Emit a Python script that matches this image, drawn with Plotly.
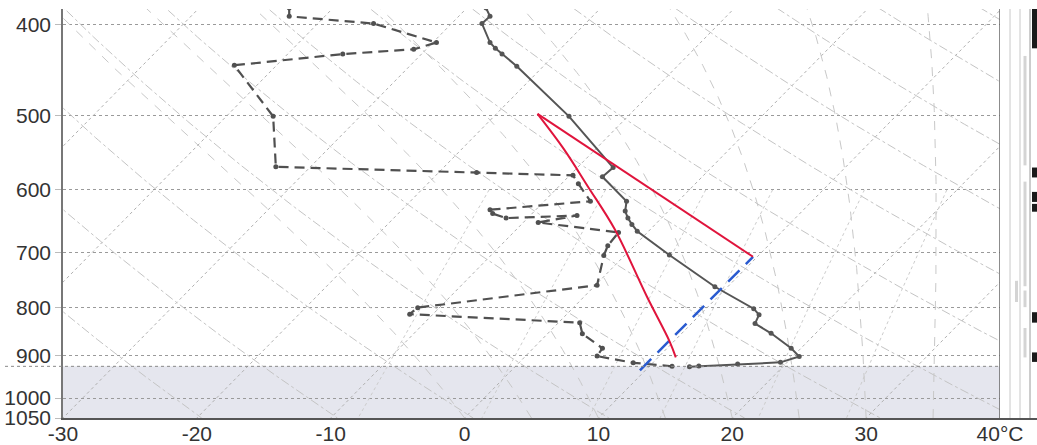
import numpy as np
import plotly.graph_objects as go

# ---------------- data (x values read on the diagram's temperature scale) ----------------
temp_p = [384, 392, 399, 418, 424, 430, 443, 501, 568, 581, 617, 632, 643, 653, 664,
          704, 761, 803, 815, 833, 853, 885, 903, 916, 920, 924, 926]
temp_x = [1.6, 1.9, 1.3, 1.9, 2.3, 2.8, 3.9, 7.8, 11.1, 10.3, 12.1, 12.0, 12.2, 12.5, 12.9,
          15.3, 18.7, 21.6, 22.0, 21.7, 22.9, 24.4, 25.0, 23.6, 20.4, 17.5, 16.8]

dew_p = [384, 392, 399, 418, 425, 430, 442, 501, 567, 575, 579, 591, 617, 630, 636,
         643, 639, 650, 666, 688, 705, 758, 801, 814, 831, 854, 885, 902, 917, 925]
dew_x = [-13.1, -13.1, -6.8, -2.1, -3.8, -9.1, -17.2, -14.3, -14.1, 0.9, 8.1, 8.5, 9.4, 1.9, 2.1,
         3.1, 8.4, 5.5, 11.5, 10.7, 10.4, 9.9, -3.5, -4.1, 8.6, 8.8, 10.3, 9.9, 12.6, 15.5]

red_a_p = [498, 707]
red_a_x = [5.45, 21.55]
red_b_p = [498, 543, 595, 661, 779, 871, 905]
red_b_x = [5.45, 7.42, 9.21, 11.22, 13.61, 15.33, 15.78]

blue_p = [934, 707]
blue_x = [13.1, 21.55]

surface_p = 925

pressure_ticks = [400, 500, 600, 700, 800, 900, 1000, 1050]
temp_ticks = [-30, -20, -10, 0, 10, 20, 30, 40]
temp_tick_text = ["-30", "-20", "-10", "0", "10", "20", "30", "40°C"]

# wind strip blocks (pressure ranges)
wind_top = [380, 568, 603, 621, 810, 894]
wind_bot = [424, 582, 618, 633, 831, 915]
speed_top = [432, 588, 768, 842]
speed_bot = [565, 760, 800, 905]
side_top = [750]
side_bot = [790]

P_BOT, P_TOP = 1050.0, 385.0
SKEW = 30.0


def skew_x(T, p):
    return T + SKEW * np.log(P_BOT / np.asarray(p, dtype=float))


fig = go.Figure()
FONT = "Liberation Sans, Arial, sans-serif"

# ---------------- background skew-T lines ----------------
pp = np.linspace(P_TOP - 10, P_BOT, 200)
for T in range(-80, 50, 10):
    fig.add_trace(go.Scatter(x=skew_x(T, pp), y=pp, mode="lines",
                             line=dict(color="#b0b0b0", width=1, dash="dot"),
                             hoverinfo="skip", showlegend=False))
for th in range(250, 460, 10):
    T = th * (pp / 1000.0) ** 0.2857 - 273.15
    fig.add_trace(go.Scatter(x=skew_x(T, pp), y=pp, mode="lines",
                             line=dict(color="#c4c4c4", width=1, dash="dashdot"),
                             hoverinfo="skip", showlegend=False))


def moist(T0):
    Rd, Cp, L, eps = 287.04, 1005.7, 2.501e6, 0.622
    ps = np.arange(P_BOT, P_TOP - 12, -2.0)
    Ts = [T0 + 273.15]
    for i in range(1, len(ps)):
        T = Ts[-1]
        Tc = T - 273.15
        es = 6.112 * np.exp(17.67 * Tc / (Tc + 243.5))
        rs = eps * es / (ps[i - 1] - es)
        dTdp = (Rd * T + L * rs) / (ps[i - 1] * (Cp + L * L * rs * eps / (Rd * T * T)))
        Ts.append(T + dTdp * (ps[i] - ps[i - 1]))
    return ps, np.array(Ts) - 273.15


for T0 in range(0, 45, 5):
    ps, Ts = moist(T0)
    fig.add_trace(go.Scatter(x=skew_x(Ts, ps), y=ps, mode="lines",
                             line=dict(color="#c8c8c8", width=1, dash="dash"),
                             hoverinfo="skip", showlegend=False))

pm = np.linspace(600, P_BOT, 60)
for w in [2, 4, 7, 10, 16, 24]:
    e = (w / 1000.0) * pm / (0.622 + w / 1000.0)
    a = np.log(e / 6.112)
    Td = 243.5 * a / (17.67 - a)
    fig.add_trace(go.Scatter(x=skew_x(Td, pm), y=pm, mode="lines",
                             line=dict(color="#cccccc", width=1, dash="dot"),
                             hoverinfo="skip", showlegend=False))

# ---------------- profiles ----------------
fig.add_trace(go.Scatter(x=dew_x, y=dew_p, mode="lines+markers",
                         line=dict(color="#505050", width=2.2, dash="10px,6px"),
                         marker=dict(size=5, color="#505050"), showlegend=False))
fig.add_trace(go.Scatter(x=temp_x, y=temp_p, mode="lines+markers",
                         line=dict(color="#555555", width=2),
                         marker=dict(size=5, color="#555555"), showlegend=False))
fig.add_trace(go.Scatter(x=blue_x, y=blue_p, mode="lines",
                         line=dict(color="#2a5bd0", width=2.5, dash="16px,9px"),
                         showlegend=False))
fig.add_trace(go.Scatter(x=red_a_x, y=red_a_p, mode="lines",
                         line=dict(color="#e0143c", width=2), showlegend=False))
fig.add_trace(go.Scatter(x=red_b_x, y=red_b_p, mode="lines",
                         line=dict(color="#e0143c", width=2, shape="spline"), showlegend=False))

# ---------------- shapes ----------------
shapes = [
    dict(type="rect", xref="x", yref="y", x0=-30, x1=40, y0=surface_p, y1=P_BOT,
         fillcolor="#e5e6ee", line=dict(width=0), layer="below"),
    dict(type="line", xref="x domain", yref="y", x0=-58 / 937, x1=1, y0=surface_p, y1=surface_p,
         line=dict(color="#8a8a8a", width=1, dash="dot")),
    dict(type="line", xref="x", yref="y domain", x0=40, x1=40, y0=0, y1=1,
         line=dict(color="#666666", width=1.5)),
]
for xs, col in [(10, "#c8c8c8"), (20, "#c8c8c8"), (30, "#9a9a9a")]:
    shapes.append(dict(type="line", xref="x2", yref="y2 domain", x0=xs, x1=xs, y0=0, y1=1,
                       line=dict(color=col, width=1)))
for a, b in zip(wind_top, wind_bot):
    shapes.append(dict(type="rect", xref="x2", yref="y2", x0=32, x1=37, y0=a, y1=b,
                       fillcolor="#1a1a1a", line=dict(width=0)))
for a, b in zip(speed_top, speed_bot):
    shapes.append(dict(type="rect", xref="x2", yref="y2", x0=23.5, x1=26.5, y0=a, y1=b,
                       fillcolor="#d4d4d4", line=dict(width=0)))
for a, b in zip(side_top, side_bot):
    shapes.append(dict(type="rect", xref="x2", yref="y2", x0=15, x1=18, y0=a, y1=b,
                       fillcolor="#d4d4d4", line=dict(width=0)))

tickfont = dict(family=FONT, size=21, color="#333333")
split = 937 / 974
fig.update_layout(
    width=1037, height=445,
    margin=dict(l=63, r=0, t=9, b=27),
    paper_bgcolor="white", plot_bgcolor="white",
    showlegend=False,
    shapes=shapes,
    xaxis=dict(domain=[0, split], range=[-30, 40], tickvals=temp_ticks, ticktext=temp_tick_text,
               showgrid=False, zeroline=False, showline=True, linecolor="#555555", linewidth=1.5,
               ticks="", ticklabelstandoff=-4, tickfont=tickfont, automargin=False),
    yaxis=dict(type="log", range=[np.log10(P_BOT), np.log10(P_TOP)], tickvals=pressure_ticks,
               ticktext=[str(v) for v in pressure_ticks],
               showgrid=True, gridcolor="#9a9a9a", griddash="dot", gridwidth=1,
               zeroline=False, showline=True, linecolor="#777777", linewidth=1.5,
               ticks="outside", ticklen=6, tickcolor="#bbbbbb", tickfont=tickfont, automargin=False),
    xaxis2=dict(domain=[split, 1], range=[0, 37], anchor="y2", showgrid=False, zeroline=False,
                showticklabels=False, showline=True, linecolor="#555555", linewidth=1.5),
    yaxis2=dict(type="log", range=[np.log10(P_BOT), np.log10(P_TOP)], anchor="x2",
                showgrid=False, zeroline=False, showticklabels=False, showline=False),
)

fig.write_html("out.html", config={"displayModeBar": False},
               post_script="document.body.style.margin='0';document.body.style.overflow='hidden';")
